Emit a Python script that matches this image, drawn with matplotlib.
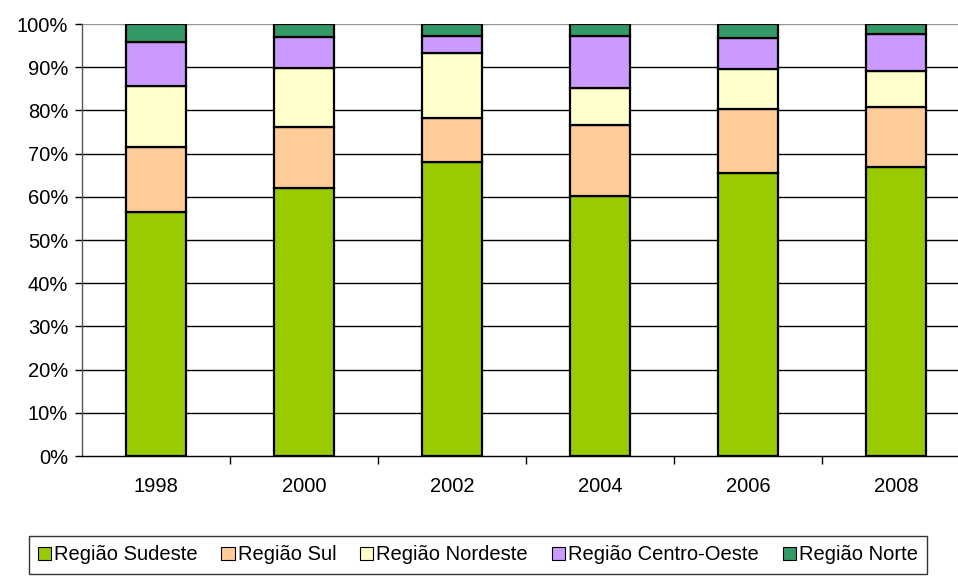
import matplotlib.pyplot as plt
import numpy as np

plt.rcParams['font.family'] = ['Liberation Sans', 'DejaVu Sans']

years = ['1998', '2000', '2002', '2004', '2006', '2008']
regions = ['Região Sudeste', 'Região Sul', 'Região Nordeste',
           'Região Centro-Oeste', 'Região Norte']
# participation share (%) per region
sudeste = [56.4, 62.0, 68.0, 60.3, 65.6, 66.8]
sul = [15.1, 14.1, 10.2, 16.4, 14.7, 14.1]
nordeste = [14.1, 13.6, 15.2, 8.6, 9.3, 8.3]
centro_oeste = [10.2, 7.4, 3.9, 12.0, 7.1, 8.4]
norte = [4.2, 2.9, 2.7, 2.7, 3.3, 2.4]
colors = ['#99CC00', '#FFCC99', '#FFFFCC', '#CC99FF', '#339966']


def main():
	fig = plt.figure(figsize=(9.58, 5.79), dpi=100)
	ax = fig.add_axes([82/958, (579-456)/579, (970-82)/958, 432/579])

	series = [sudeste, sul, nordeste, centro_oeste, norte]
	x = np.arange(len(years))
	bottom = np.zeros(len(years))
	for vals, name, col in zip(series, regions, colors):
		v = np.array(vals)
		ax.bar(x, v, bottom=bottom, width=0.4, color=col, edgecolor='black',
		       linewidth=1.6, label=name, zorder=3)
		bottom += v

	ax.set_xlim(-0.5, len(years) - 0.5)
	ax.set_ylim(0, 100)
	ax.set_yticks(range(0, 101, 10))
	ax.set_yticklabels(['%d%%' % t for t in range(0, 101, 10)])
	for t in range(10, 100, 10):
		ax.axhline(t, color='black', linewidth=1.0, zorder=1)
	ax.axhline(100, color='#999999', linewidth=1.0, zorder=1)

	ax.set_xticks(x)
	ax.set_xticklabels(years)
	ax.set_xticks(np.arange(0.5, len(years) - 0.5, 1), minor=True)
	ax.tick_params(axis='x', which='major', length=0, pad=15, labelsize=14.5)
	ax.tick_params(axis='x', which='minor', length=6, direction='out', width=1)
	ax.tick_params(axis='y', length=5, width=1, labelsize=14.5, pad=5)

	for s in ['top', 'right']:
		ax.spines[s].set_visible(False)
	ax.spines['left'].set_linewidth(1.0)
	ax.spines['bottom'].set_linewidth(1.0)
	ax.spines['left'].set_color('#555555')
	ax.spines['bottom'].set_color('black')

	leg = fig.legend(loc='center', bbox_to_anchor=(478/958, (579-555)/579),
	                 ncol=5, fontsize=14.5, frameon=True, fancybox=False,
	                 handlelength=0.65, handleheight=0.65, handletextpad=0.15,
	                 columnspacing=1.2, borderpad=0.45)
	leg.get_frame().set_edgecolor('black')
	leg.get_frame().set_linewidth(1.0)
	for h in leg.legend_handles:
		h.set_linewidth(0.8)

	plt.savefig('out.png', dpi=100)
	return


if __name__ == '__main__':
	main()
